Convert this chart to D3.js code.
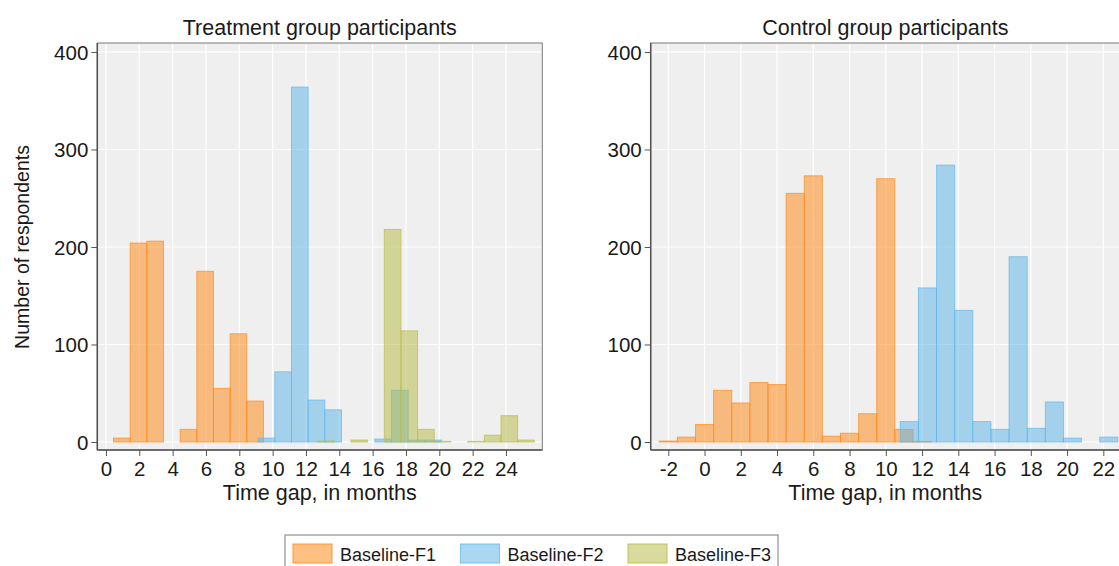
<!DOCTYPE html>
<html><head><meta charset="utf-8">
<script src="https://cdn.jsdelivr.net/npm/d3@7"></script>
<style>
body{margin:0;background:#fff;overflow:hidden;}
text{font-family:"Liberation Sans",Arial,sans-serif;fill:#1a1a1a;}
</style>
</head><body>
<svg id="chart" width="1119" height="566"></svg>
<script>
// ---- data (bin centre in months, number of respondents) ----
const treatF1Gap = [0.95, 1.95, 2.95, 4.95, 5.95, 6.95, 7.95, 8.95];
const treatF1N   = [4, 204, 206, 13, 175, 55, 111, 42];
const treatF2Gap = [9.63, 10.63, 11.63, 12.63, 13.63, 16.63, 17.63, 18.63, 19.63];
const treatF2N   = [4, 72, 364, 43, 33, 3, 53, 2, 2];
const treatF3Gap = [13.2, 15.2, 17.2, 18.2, 19.2, 20.2, 22.2, 23.2, 24.2, 25.2];
const treatF3N   = [1, 2, 218, 114, 13, 0.6, 0.6, 7, 27, 2];

const ctrlF1Gap = [-2, -1, 0, 1, 2, 3, 4, 5, 6, 7, 8, 9, 10, 11, 12];
const ctrlF1N   = [1, 5, 18, 53, 40, 61, 59, 255, 273, 6, 9, 29, 270, 13, 0.6];
const ctrlF2Gap = [11.3, 12.3, 13.3, 14.3, 15.3, 16.3, 17.3, 18.3, 19.3, 20.3, 22.3];
const ctrlF2N   = [21, 158, 284, 135, 21, 13, 190, 14, 41, 4, 5];

const seriesNames = ["Baseline-F1", "Baseline-F2", "Baseline-F3"];
const yTicks = [0, 100, 200, 300, 400];
const treatXTicks = [0, 2, 4, 6, 8, 10, 12, 14, 16, 18, 20, 22, 24];
const ctrlXTicks = [-2, 0, 2, 4, 6, 8, 10, 12, 14, 16, 18, 20, 22];
const panelTitles = ["Treatment group participants", "Control group participants"];
const xTitle = "Time gap, in months";
const yTitle = "Number of respondents";

// ---- styles ----
const fills = ["rgb(255,140,30)", "rgb(101,184,234)", "rgb(186,188,77)"];
const FONT = 20.5;
const TITLE_FONT = 21.5;

const svg = d3.select("#chart");
const zip = (xs, ns) => xs.map((x, i) => ({gap: x, n: ns[i]}));

const yScale = d3.scaleLinear().domain([-8.2, 409.2]).range([450, 43]);

function panel(opts) {
  const x = d3.scaleLinear().domain(opts.domain).range(opts.range);
  const g = svg.append("g");
  const [px0, px1] = opts.range;
  const [py1, py0] = yScale.range();
  // background
  g.append("rect").attr("x", px0).attr("y", py0).attr("width", px1 - px0).attr("height", py1 - py0)
    .attr("fill", "#efefef");
  // grid
  g.selectAll(".gx").data(opts.ticks).join("line")
    .attr("x1", d => x(d)).attr("x2", d => x(d)).attr("y1", py0).attr("y2", py1)
    .attr("stroke", "#fff").attr("stroke-width", 1.2);
  g.selectAll(".gy").data(yTicks).join("line")
    .attr("x1", px0).attr("x2", px1).attr("y1", d => yScale(d)).attr("y2", d => yScale(d))
    .attr("stroke", "#fff").attr("stroke-width", 1.2);
  // bars
  opts.series.forEach((s, si) => {
    if (!s) return;
    g.append("g").selectAll("rect").data(s).join("rect")
      .attr("x", d => x(d.gap - 0.5)).attr("width", d => x(d.gap + 0.5) - x(d.gap - 0.5))
      .attr("y", d => yScale(d.n)).attr("height", d => yScale(0) - yScale(d.n))
      .attr("fill", fills[si]).attr("fill-opacity", 0.55)
      .attr("stroke", fills[si]).attr("stroke-opacity", 0.7).attr("stroke-width", 1);
  });
  // frame
  g.append("rect").attr("x", px0).attr("y", py0).attr("width", px1 - px0).attr("height", py1 - py0)
    .attr("fill", "none").attr("stroke", "#7a7a7a").attr("stroke-width", 1);
  // axes
  const yAxis = d3.axisLeft(yScale).tickValues(yTicks).tickSize(6).tickPadding(3);
  const ya = g.append("g").attr("transform", `translate(${px0},0)`).call(yAxis);
  ya.select(".domain").attr("d", `M0,${py0}V${py1}`).attr("stroke", "#555").attr("stroke-width", 1.5);
  ya.selectAll(".tick line").attr("stroke", "#555");
  ya.selectAll("text").attr("font-size", FONT).attr("dy", "0.35em")
    .style("font-family", '"Liberation Sans",Arial,sans-serif').attr("fill", "#1a1a1a");

  const xAxis = d3.axisBottom(x).tickValues(opts.ticks).tickFormat(d => String(d)).tickSize(6).tickPadding(5);
  const xa = g.append("g").attr("transform", `translate(0,${py1})`).call(xAxis);
  xa.select(".domain").attr("d", `M${px0},0H${px1}`).attr("stroke", "#555").attr("stroke-width", 1.5);
  xa.selectAll(".tick line").attr("stroke", "#555");
  xa.selectAll("text").attr("font-size", FONT)
    .style("font-family", '"Liberation Sans",Arial,sans-serif').attr("fill", "#1a1a1a");

  // titles
  g.append("text").attr("x", (px0 + px1) / 2).attr("y", 35).attr("text-anchor", "middle")
    .attr("font-size", TITLE_FONT).text(opts.title);
  g.append("text").attr("x", (px0 + px1) / 2).attr("y", 500).attr("text-anchor", "middle")
    .attr("font-size", TITLE_FONT).text(xTitle);
}

panel({
  range: [97.3, 542.3], domain: [-0.52, 26.18], ticks: treatXTicks, title: panelTitles[0],
  series: [zip(treatF1Gap, treatF1N), zip(treatF2Gap, treatF2N), zip(treatF3Gap, treatF3N)]
});
panel({
  range: [650.7, 1120], domain: [-2.97, 22.92], ticks: ctrlXTicks, title: panelTitles[1],
  series: [zip(ctrlF1Gap, ctrlF1N), zip(ctrlF2Gap, ctrlF2N), null]
});

// y axis title
svg.append("text").attr("transform", "translate(29,247) rotate(-90)").attr("text-anchor", "middle")
  .attr("font-size", 19.5).text(yTitle);

// legend
const lg = svg.append("g");
lg.append("rect").attr("x", 285).attr("y", 535).attr("width", 493).attr("height", 40)
  .attr("fill", "#fff").attr("stroke", "#7a7a7a").attr("stroke-width", 1);
const legX = d3.scalePoint().domain(seriesNames).range([293, 628]);
seriesNames.forEach((name, i) => {
  const lx = legX(name);
  lg.append("rect").attr("x", lx).attr("y", 544).attr("width", 39).attr("height", 19)
    .attr("fill", fills[i]).attr("fill-opacity", 0.55)
    .attr("stroke", fills[i]).attr("stroke-opacity", 0.7).attr("stroke-width", 1.2);
  lg.append("text").attr("x", lx + 47).attr("y", 561).attr("font-size", 18).text(name);
});
</script>
</body></html>
